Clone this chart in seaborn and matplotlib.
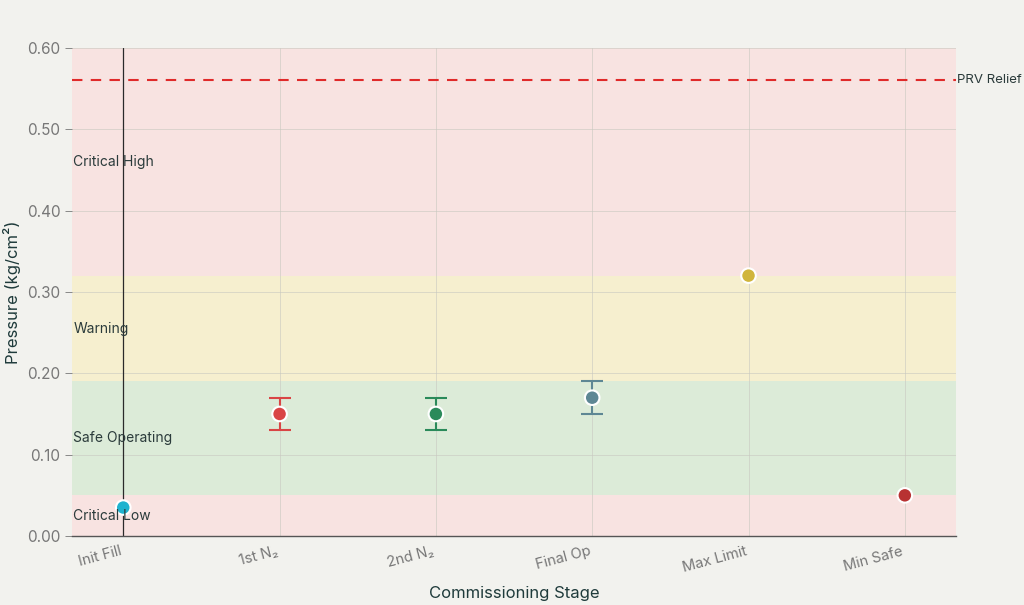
import numpy as np
import pandas as pd
import matplotlib
matplotlib.use('Agg')
import matplotlib.pyplot as plt
import seaborn as sns

# Data
stages = ['Init Fill', '1st N₂', '2nd N₂', 'Final Op', 'Max Limit', 'Min Safe']
pressure = [0.035, 0.15, 0.15, 0.17, 0.32, 0.05]
err = [0, 0.02, 0.02, 0.02, 0, 0]
colors = ['#1fb3cf', '#d94545', '#2a8a5a', '#5e8794', '#d0b53c', '#b83232']

band_names = ['Critical Low', 'Safe Operating', 'Warning', 'Critical High']
band_lo = [0.0, 0.05, 0.19, 0.32]
band_hi = [0.05, 0.19, 0.32, 0.60]
band_colors = ['#f8e3e1', '#dcebd8', '#f6efcf', '#f8e3e1']
prv_relief = 0.56

sns.set_theme(style='whitegrid')
plt.rcParams['font.family'] = ['Inter', 'DejaVu Sans']

bg = '#f2f2ee'
fig, ax = plt.subplots(figsize=(10.24, 6.05), dpi=100)
fig.patch.set_facecolor(bg)
ax.set_facecolor(bg)

# Shaded zones
for lo, hi, c, name in zip(band_lo, band_hi, band_colors, band_names):
    ax.axhspan(lo, hi, xmin=0, xmax=1, color=c, zorder=0, lw=0)
    ax.text(-0.32, (lo + hi) / 2, name, va='center', ha='left',
            fontsize=10, color='#2b3b3b', zorder=5)

df = pd.DataFrame({'stage': stages, 'pressure': pressure, 'err': err})

# Error bars
for i, (p, e, c) in enumerate(zip(pressure, err, colors)):
    if e > 0:
        ax.errorbar(i, p, yerr=e, color=c, capsize=8, capthick=1.5,
                    elinewidth=1.5, fmt='none', zorder=3)

sns.scatterplot(data=df, x='stage', y='pressure', hue='stage', palette=colors,
                s=110, edgecolor='white', linewidth=1.5, legend=False,
                zorder=4, ax=ax)

ax.axhline(prv_relief, color='#e02a2a', ls=(0, (5, 4)), lw=1.5, zorder=2)
ax.text(1.001, prv_relief, 'PRV Relief', va='center', ha='left',
        fontsize=9.5, color='#2b3b3b', clip_on=False,
        transform=ax.get_yaxis_transform())

ax.axvline(0, color='#2a2a2a', lw=0.9, zorder=2)

ax.set_xlim(-0.33, 5.33)
ax.set_ylim(0, 0.60)
ax.set_yticks(np.arange(0, 0.61, 0.1))
ax.set_yticklabels([f'{v:.2f}' for v in np.arange(0, 0.61, 0.1)])
ax.grid(True, color='#c8c8c0', lw=0.7, alpha=0.6)
for g in ax.get_xgridlines() + ax.get_ygridlines():
    g.set_zorder(1)

for side in ['top', 'right', 'left']:
    ax.spines[side].set_visible(False)
ax.spines['bottom'].set_visible(True)
ax.spines['bottom'].set_color('#555555')
ax.spines['bottom'].set_linewidth(1)

ax.tick_params(axis='x', labelrotation=15, labelsize=10.5, colors='#777777', length=0, pad=6)
ax.tick_params(axis='y', labelsize=11, colors='#777777', length=5, left=True, width=0.6, pad=3)
for lbl in ax.get_xticklabels():
    lbl.set_ha('right')

ax.set_xlabel('Commissioning Stage', fontsize=12, color='#1f3b3b', labelpad=8)
ax.set_ylabel('Pressure (kg/cm²)', fontsize=12, color='#1f3b3b', labelpad=4)

fig.subplots_adjust(left=0.07, right=0.934, top=0.921, bottom=0.114)
fig.savefig('out.png', dpi=100, facecolor=bg)
